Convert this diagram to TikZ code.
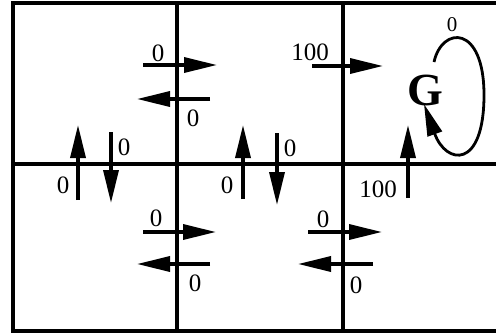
\documentclass[tikz,border=0pt]{standalone}
\usepackage{fontspec}
\setmainfont{Liberation Serif}
\usetikzlibrary{arrows.meta}

\begin{document}
\begin{tikzpicture}[
    x=1pt, y=-1pt,
    grid/.style={line width=3.2pt, line cap=rect},
    move/.style={line width=3.6pt, -{Triangle[length=33pt, width=15pt]}},
    reward/.style={font=\fontsize{25}{25}\selectfont, inner sep=0pt},
]
    \useasboundingbox (0,0) rectangle (496,333);

    %% the grid of six states, open on the right
    \draw[grid] (496,3) -- (13,3) -- (13,331) -- (496,331);
    \draw[grid] (13,164) -- (496,164);
    \draw[grid] (177,3) -- (177,331);
    \draw[grid] (343,3) -- (343,331);

    %% moves to the right, with their rewards above
    \foreach \xa/\xb/\y/\lx/\ly/\r in {143/217/65/158/53/0, 312/383/66/310/52/100,
            143/216/232/156/218/0, 308/382/232/323/219/0}{
        \draw[move] (\xa,\y) -- (\xb,\y);
        \node[reward] at (\lx,\ly) {\r};
    }
    %% moves to the left, with their rewards below
    \foreach \xa/\xb/\y/\lx/\ly in {210/137/99/193/118, 210/137/264/195/283,
            373/298/264/356/285}{
        \draw[move] (\xa,\y) -- (\xb,\y);
        \node[reward] at (\lx,\ly) {0};
    }
    %% moves up and down between the rows
    \foreach \x/\ya/\yb/\lx/\ly/\r in {78/200/125/63/185/0, 243/199/125/227/185/0,
            408/198/125/378/189/100, 111/132/203/124/147/0, 277/133/205/290/148/0}{
        \draw[move] (\x,\ya) -- (\x,\yb);
        \node[reward] at (\lx,\ly) {\r};
    }

    %% the goal state, which loops back on itself
    \node[font=\fontsize{46}{46}\selectfont\bfseries, inner sep=0pt] (goal) at (425,90) {G};
    \draw[line width=2.8pt, -{Triangle[length=32pt, width=15pt]}]
        (434,62) .. controls (442,26) and (484,24) .. (484,95)
        .. controls (484,170) and (446,165) .. (424,104);
    \node[reward, font=\fontsize{21}{21}\selectfont] (stay) at (452,25) {0};
\end{tikzpicture}
\end{document}
